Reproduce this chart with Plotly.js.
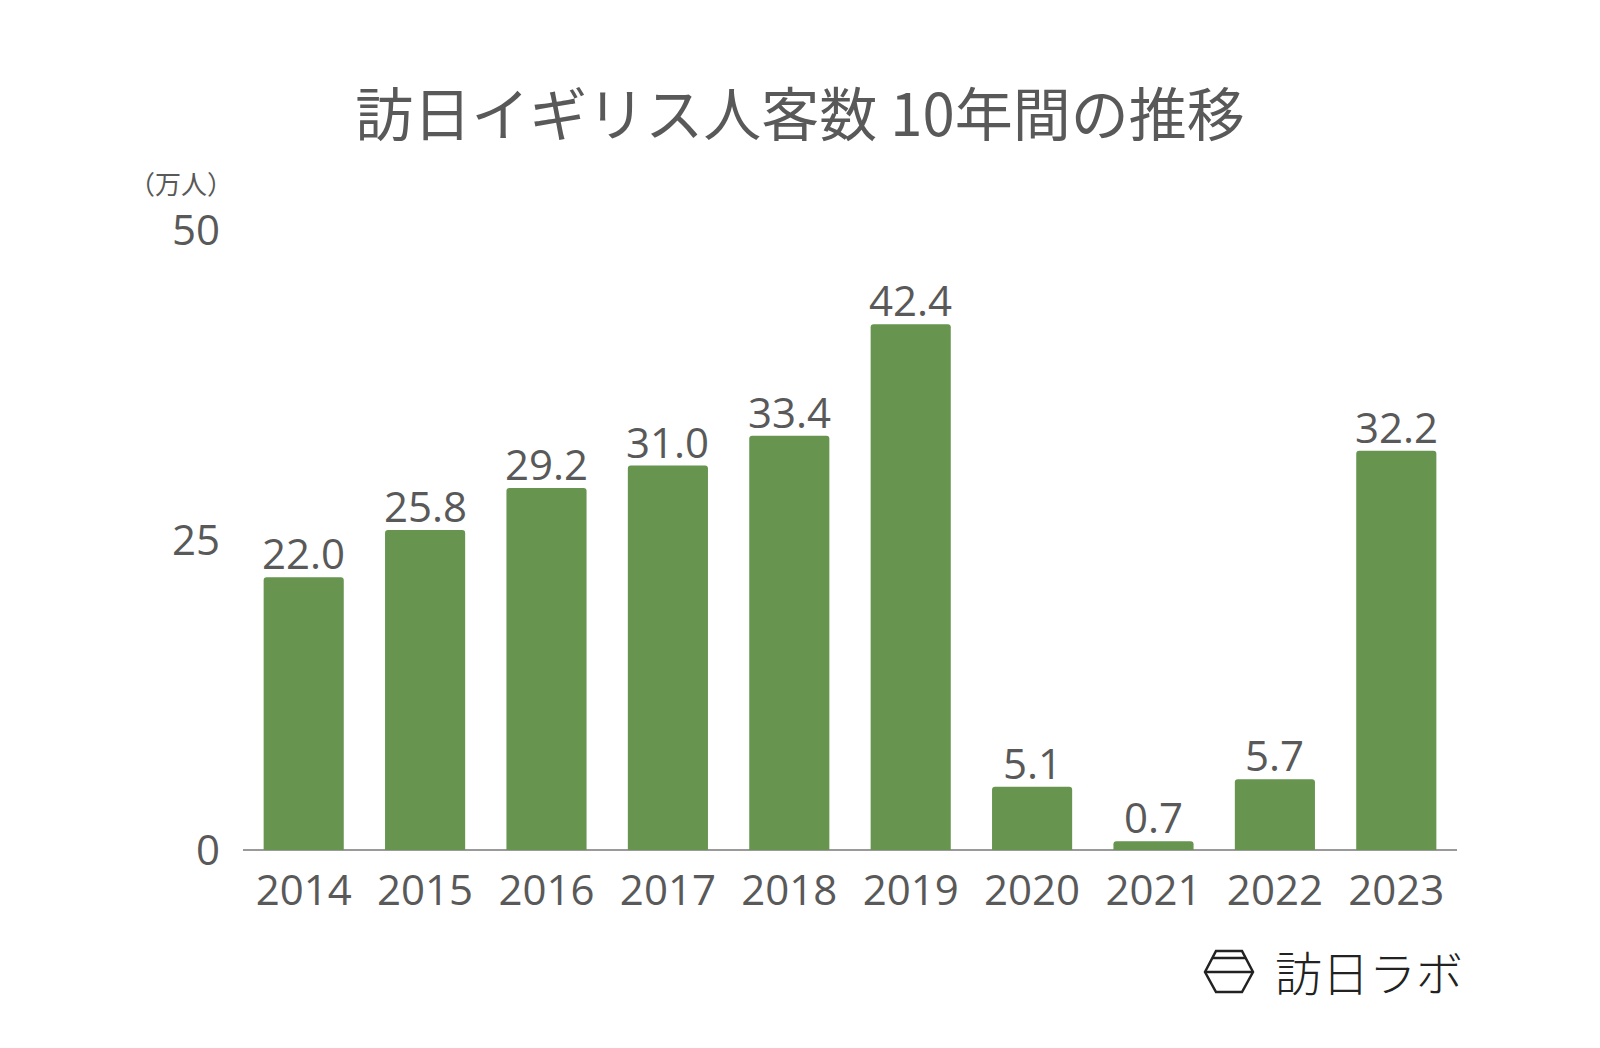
<!DOCTYPE html>
<html>
<head>
<meta charset="utf-8">
<script src="https://cdn.plot.ly/plotly-3.0.1.min.js"></script>
<style>html,body{margin:0;padding:0;background:#fff;}#chart{width:1600px;height:1048px;}</style>
</head>
<body>
<div id="chart"></div>
<script>
const years = ["2014","2015","2016","2017","2018","2019","2020","2021","2022","2023"];
const visitors = [22.0, 25.8, 29.2, 31.0, 33.4, 42.4, 5.1, 0.7, 5.7, 32.2];
const yTicks = [0, 25, 50];
const titleText = "訪日イギリス人客数 10年間の推移";
const unitLabel = "（万人）";
const logoText = "訪日ラボ";

const FONT = '"Open Sans", "Noto Sans CJK JP", sans-serif';
const CJK = '"Noto Sans CJK JP", "Noto Sans", sans-serif';
const GREY = '#595959';

const trace = {
  type: 'bar',
  x: years,
  y: visitors,
  marker: {color: '#67944f', cornerradius: 3},
  hoverinfo: 'x+y'
};

const valueLabels = years.map((yr, i) => ({
  x: i, y: visitors[i], xref: 'x', yref: 'y',
  text: visitors[i].toFixed(1), showarrow: false,
  xanchor: 'center', yanchor: 'bottom', yshift: -6,
  font: {family: FONT, size: 42, color: GREY}
}));

const px = x => (x-243)/1214, py = y => (850-y)/620;

const layout = {
  width: 1600, height: 1048,
  paper_bgcolor: '#ffffff', plot_bgcolor: '#ffffff',
  margin: {l: 243, r: 143, t: 230, b: 198},
  bargap: 0.34,
  showlegend: false,
  font: {family: FONT, color: GREY},
  title: {text: titleText, font: {family: CJK, size: 58, color: GREY}, x: 0.5, xanchor: 'center', y: 1 - 116/1048, yanchor: 'middle'},
  xaxis: {
    type: 'category', categoryorder: 'array', categoryarray: years, range: [-0.5, years.length - 0.5],
    showgrid: false, zeroline: false, showline: false,
    tickfont: {family: FONT, size: 42, color: GREY}, ticks: '', ticklabelstandoff: 12
  },
  yaxis: {
    range: [0, 50], tickvals: yTicks, ticktext: yTicks.map(String), showgrid: false,
    zeroline: true, zerolinecolor: '#9a9a9a', zerolinewidth: 1.5, showline: false,
    tickfont: {family: FONT, size: 42, color: GREY}, ticks: '', ticklabelstandoff: 22
  },
  annotations: valueLabels.concat([
    {text: unitLabel, xref: 'paper', yref: 'paper', x: px(181), y: py(183), xanchor: 'center', yanchor: 'middle', showarrow: false, font: {family: CJK, size: 26, color: GREY}},
    {text: logoText, xref: 'paper', yref: 'paper', x: px(1273), y: py(970), xanchor: 'left', yanchor: 'middle', showarrow: false, font: {family: CJK, size: 47, color: '#222222', weight: 200}}
  ]),
  shapes: [
    {type: 'path', xref: 'paper', yref: 'paper', line: {color: '#222222', width: 2.5},
     path: 'M ' + px(1216) + ',' + py(951) + ' L ' + px(1242) + ',' + py(951) + ' L ' + px(1253) + ',' + py(972) + ' L ' + px(1242) + ',' + py(992) + ' L ' + px(1216) + ',' + py(992) + ' L ' + px(1205) + ',' + py(972) + ' Z'},
    {type: 'line', xref: 'paper', yref: 'paper', line: {color: '#222222', width: 2.5}, x0: px(1212), x1: px(1246), y0: py(958), y1: py(958)},
    {type: 'line', xref: 'paper', yref: 'paper', line: {color: '#222222', width: 2.5}, x0: px(1205), x1: px(1253), y0: py(972), y1: py(972)}
  ]
};

Plotly.newPlot('chart', [trace], layout, {displayModeBar: false, staticPlot: true});
</script>
</body>
</html>
